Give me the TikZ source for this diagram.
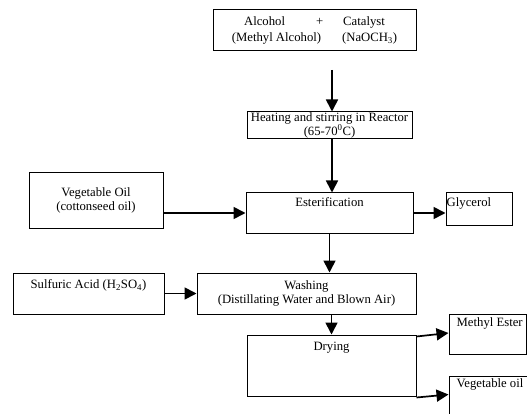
\documentclass[tikz,border=0pt]{standalone}
\usepackage{fontspec}
\setmainfont{Liberation Serif}
\usetikzlibrary{arrows.meta,positioning,calc}
\tikzset{
  txt/.style={inner sep=1pt, align=center, font=\fontsize{12.7}{14.5}\selectfont},
  box/.style={txt, draw, line width=1pt},
  flow/.style={line width=1.7pt, -{Triangle[length=12pt,width=12pt]}}
}
\begin{document}
\begin{tikzpicture}[x=1pt,y=-1pt]
\useasboundingbox (0,0) rectangle (527,414);
\clip (0,0) rectangle (527,414);
\node[box, minimum width=203pt, minimum height=41pt] (mix) at (314.5,30.5) {Alcohol\hspace{31pt}+\hspace{20pt}Catalyst\\[1.5pt](Methyl Alcohol)\hspace{21pt}(NaOCH\textsubscript{3})};
\node[box, inner sep=0pt, minimum width=165pt, minimum height=27pt] (heat) at (329.5,125.5) {Heating and stirring in Reactor\\[-1pt](65-70\textsuperscript{0}C)};
\node[box, minimum width=167pt, minimum height=40pt] (ester) at (329.5,213) {};
\node[txt, below=4pt of ester.north] (esterT) {Esterification};
\node[box, minimum width=66pt, minimum height=32pt] (glyc) at (479,209) {};
\node[txt, below right=4pt and 0pt of glyc.north west] (glycT) {Glycerol};
\node[box, minimum width=134pt, minimum height=55pt] (vegoil) at (96,200.5) {Vegetable Oil\\(cottonseed oil)};
\node[box, minimum width=151pt, minimum height=41pt] (acid) at (88.5,293.5) {};
\node[txt, below=6pt of acid.north] (acidT) {Sulfuric Acid (H\textsubscript{2}SO\textsubscript{4})};
\node[box, minimum width=219pt, minimum height=41pt] (wash) at (306.5,293.5) {Washing\\(Distillating Water and Blown Air)};
\node[box, minimum width=169pt, minimum height=61pt] (dry) at (331.5,365.5) {};
\node[txt, below=6pt of dry.north] (dryT) {Drying};
\node[box, minimum width=77pt, minimum height=40pt] (mester) at (487.5,334) {};
\node[txt, below right=3pt and 7pt of mester.north west] (mesterT) {Methyl Ester};
\node[box, minimum width=90pt, minimum height=60pt] (vego) at (494,406) {};
\node[txt, below right=2pt and 7pt of vego.north west] (vegoT) {Vegetable oil};
\coordinate (in1) at (332,70);
\draw[flow] (in1) -- (in1 |- heat.north);
\draw[flow] ($(heat.south)+(2.5,0)$) -- ($(heat.south |- ester.north)+(2.5,0)$);
\draw[flow] (vegoil.east |- ester.west) -- (ester.west);
\draw[flow] (ester.east) -- (ester.east -| glyc.west);
\draw[flow] (ester.south) -- (ester.south |- wash.north);
\draw[flow] (acid.east) -- (wash.west);
\draw[flow] (dry.north |- wash.south) -- (dry.north);
\draw[flow] ($(dry.north east)+(0,2)$) -- ($(mester.west)+(0,-1)$);
\draw[flow] ($(dry.south east)+(0,1)$) -- ($(dry.south east -| vego.west)+(0,-2)$);
\end{tikzpicture}
\end{document}
